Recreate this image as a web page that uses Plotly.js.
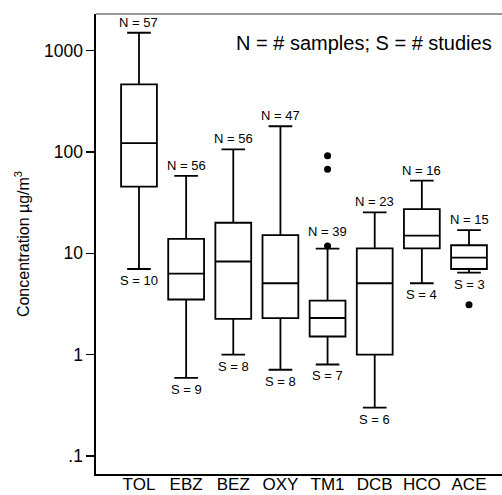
<!DOCTYPE html>
<html>
<head>
<meta charset="utf-8">
<script src="https://cdn.plot.ly/plotly-3.0.1.min.js"></script>
<style>html,body{margin:0;padding:0;background:#fff;}#chart{width:502px;height:495px;}</style>
</head>
<body>
<div id="chart"></div>
<script>
// ---- data ----
var categories   = ['TOL','EBZ','BEZ','OXY','TM1','DCB','HCO','ACE'];
var lowerWhisker = [7.0, 0.59, 1.0, 0.71, 0.8, 0.30, 5.06, 6.44];
var q1Values     = [45.5, 3.5, 2.25, 2.29, 1.51, 1.0, 11.2, 7.0];
var medianValues = [122, 6.3, 8.3, 5.06, 2.3, 5.06, 14.9, 9.05];
var q3Values     = [464, 13.9, 20, 15.1, 3.41, 11.2, 27.2, 12.0];
var upperWhisker = [1497, 58, 106, 179, 11.1, 25.3, 52, 16.9];
var nSamples     = [57, 56, 56, 47, 39, 23, 16, 15];
var nStudies     = [10, 9, 8, 8, 7, 6, 4, 3];
var outlierCats  = ['TM1', 'TM1', 'TM1', 'ACE'];
var outlierVals  = [91.4, 67.6, 11.8, 3.1];
var yTickVals    = [0.1, 1, 10, 100, 1000];
var yTickText    = ['.1', '1', '10', '100', '1000'];

// label offsets (styling only)
var nShift = [1, 1, 1, 1, 8, 1, 1, 1];

var FONT = 'Liberation Sans, Arial, Helvetica, sans-serif';

var boxTrace = {
  type: 'box',
  x: categories,
  q1: q1Values,
  median: medianValues,
  q3: q3Values,
  lowerfence: lowerWhisker,
  upperfence: upperWhisker,
  boxpoints: false,
  width: 0.76,
  whiskerwidth: 0.66,
  fillcolor: 'rgba(255,255,255,0)',
  line: {color: '#000', width: 1.8},
  hoverinfo: 'skip',
  showlegend: false
};

var outTrace = {
  type: 'scatter',
  mode: 'markers',
  x: outlierCats,
  y: outlierVals,
  marker: {color: '#000', size: 7},
  showlegend: false,
  hoverinfo: 'skip'
};

var annotations = [];
for (var i = 0; i < categories.length; i++) {
  annotations.push({
    x: categories[i], y: Math.log10(upperWhisker[i]), xref: 'x', yref: 'y',
    text: 'N = ' + nSamples[i], showarrow: false, yanchor: 'bottom', yshift: nShift[i],
    font: {family: FONT, size: 13, color: '#000'}
  });
  annotations.push({
    x: categories[i], y: Math.log10(lowerWhisker[i]), xref: 'x', yref: 'y',
    text: 'S = ' + nStudies[i], showarrow: false, yanchor: 'top', yshift: -2,
    font: {family: FONT, size: 13, color: '#000'}
  });
}
annotations.push({
  x: 1 - (502 - 494) / 406, xanchor: 'right',
  y: 1 - (43 - 14) / 460, yanchor: 'middle',
  xref: 'paper', yref: 'paper', showarrow: false,
  text: 'N = # samples; S = # studies',
  font: {family: FONT, size: 20, color: '#000'}
});

var layout = {
  width: 502, height: 495,
  margin: {l: 96, r: 0, t: 14, b: 21},
  paper_bgcolor: '#fff', plot_bgcolor: '#fff',
  font: {family: FONT, color: '#000'},
  xaxis: {
    type: 'category',
    categoryorder: 'array', categoryarray: categories,
    range: [-0.912, 7.70],
    showgrid: false, zeroline: false,
    showline: true, linecolor: '#000', linewidth: 1.6,
    ticks: '', ticklabelstandoff: -6,
    tickfont: {family: FONT, size: 17, color: '#000'},
    fixedrange: true
  },
  yaxis: {
    type: 'log',
    range: [-1.177, 3.36],
    tickvals: yTickVals, ticktext: yTickText,
    showgrid: false, zeroline: false,
    showline: true, linecolor: '#000', linewidth: 1.6,
    ticks: 'outside', ticklen: 8, tickwidth: 1.4, tickcolor: '#000',
    tickfont: {family: FONT, size: 17.5, color: '#000'},
    title: {text: 'Concentration µg/m<sup>3</sup>', font: {family: FONT, size: 16, color: '#000'}, standoff: 10},
    fixedrange: true
  },
  shapes: [{
    type: 'line', xref: 'paper', yref: 'paper', x0: 0, x1: 1, y0: 1, y1: 1,
    line: {color: '#777', width: 1.5}
  }],
  annotations: annotations
};

Plotly.newPlot('chart', [boxTrace, outTrace], layout, {displayModeBar: false, staticPlot: true});
</script>
</body>
</html>
